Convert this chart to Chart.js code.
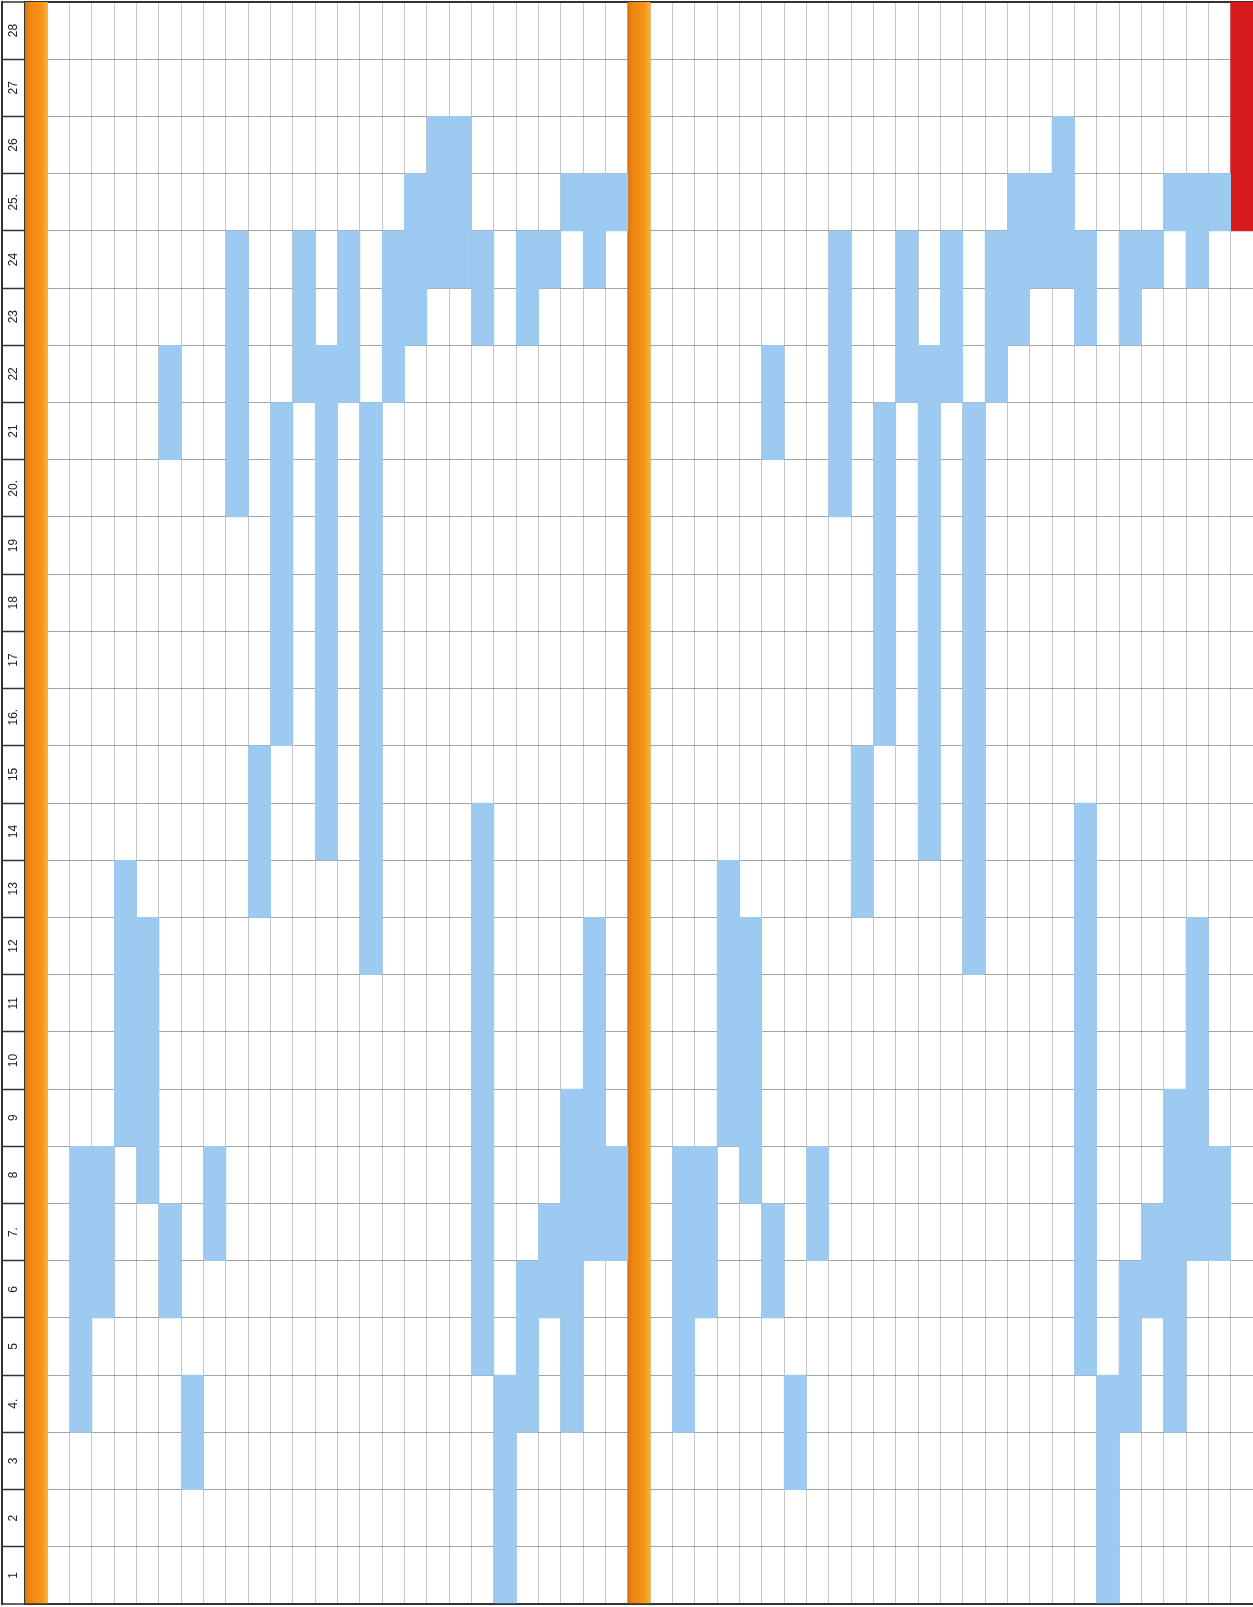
<!DOCTYPE html>
<html>
<head>
<meta charset="utf-8">
<script src="https://cdn.jsdelivr.net/npm/chart.js@4.4.1/dist/chart.umd.min.js"></script>
<style>
  html, body { margin: 0; padding: 0; background: #fff; overflow: hidden; }
  #wrap { position: relative; width: 1253px; height: 1607px; }
</style>
</head>
<body>
<div id="wrap"><canvas id="sheet"></canvas></div>
<script>
// row labels as written on the sheet, bottom to top
const rowLabels = ['1', '2', '3', '4.', '5', '6', '7.', '8', '9', '10', '11', '12', '13', '14',
    '15', '16.', '17', '18', '19', '20.', '21', '22', '23', '24', '25.', '26', '27', '28'];

// one category per column of the sheet
const columnLabels = ['1', '2', '3', '4', '5', '6', '7', '8', '9', '10', '11', '12', '13', '14',
    '15', '16', '17', '18', '19', '20', '21', '22', '23', '24', '25', '26', '27', '28', '29',
    '30', '31', '32', '33', '34', '35', '36', '37', '38', '39', '40', '41', '42', '43', '44',
    '45', '46', '47', '48', '49', '50', '51', '52', '53', '54', '55'];

// blue blocks: [first row, last row] per column (null = empty)
const blueMain = [
    null, null, [4, 8], [6, 8], [9, 13], [8, 12], [6, 7], [3, 4], [7, 8], [20, 24],
    [13, 15], [16, 21], [22, 24], [14, 22], [22, 24], [12, 21], [22, 24], [23, 25], [24, 26], [24, 26],
    [5, 14], [1, 4], [4, 6], [6, 7], [4, 9], [7, 12], [7, 8], null, null, [4, 8],
    [6, 8], [9, 13], [8, 12], [6, 7], [3, 4], [7, 8], [20, 24], [13, 15], [16, 21], [22, 24],
    [14, 22], [22, 24], [12, 21], [22, 24], [23, 25], [24, 25], [24, 26], [5, 14], [1, 4], [4, 6],
    [6, 7], [4, 9], [7, 12], [7, 8], null
];
// second block in the columns that have a gap
const blueUpper = [
    null, null, null, null, null, null, [21, 22], null, null, null,
    null, null, null, null, null, null, null, null, null, null,
    [23, 24], null, [23, 24], [24, 24], [25, 25], [24, 25], [25, 25], null, null, null,
    null, null, null, [21, 22], null, null, null, null, null, null,
    null, null, null, null, null, null, null, [23, 24], null, [23, 24],
    [24, 24], [25, 25], [24, 25], [25, 25], null
];

// marker columns
const orangeCols = [0, 27];
const orangeRows = [1, 28];
const redCols = [54];
const redRows = [25, 28];

// row range -> floating bar [bottom, top] on the row scale
const toBar = r => r ? [r[0] - 1, r[1]] : null;

const orangeData = columnLabels.map((_, i) => orangeCols.includes(i) ? toBar(orangeRows) : null);
const redData = columnLabels.map((_, i) => redCols.includes(i) ? toBar(redRows) : null);

function orangeFill(ctx) {
    const chart = ctx.chart;
    const xs = chart.scales.x;
    if (!xs || !xs.width || ctx.dataIndex === undefined) return '#f08a12';
    const w = xs.width / columnLabels.length;
    const cx = xs.getPixelForValue(ctx.dataIndex);
    const g = chart.ctx.createLinearGradient(cx - w / 2, 0, cx + w / 2, 0);
    g.addColorStop(0, '#d9720c');
    g.addColorStop(0.2, '#ef840f');
    g.addColorStop(0.75, '#f4961a');
    g.addColorStop(1, '#f7b03c');
    return g;
}

// outer left edge of the label column
const frame = {
    id: 'frame',
    afterDraw(chart) {
        const ys = chart.scales.y;
        const c = chart.ctx;
        c.save();
        c.strokeStyle = '#333';
        c.lineWidth = 2;
        c.beginPath();
        c.moveTo(ys.left + 1, chart.chartArea.top - 1);
        c.lineTo(ys.left + 1, chart.chartArea.bottom + 1);
        c.stroke();
        c.restore();
    }
};

const isRowLine = c => c.tick && c.tick.value % 1 === 0;
const isEdge = c => c.tick && (c.tick.value === 0 || c.tick.value === 28);

new Chart(document.getElementById('sheet'), {
    type: 'bar',
    data: {
        labels: columnLabels,
        datasets: [
            { data: blueMain.map(toBar), backgroundColor: '#9ccaf1' },
            { data: blueUpper.map(toBar), backgroundColor: '#9ccaf1' },
            { data: orangeData, backgroundColor: orangeFill },
            { data: redData, backgroundColor: '#d71a1c' }
        ]
    },
    options: {
        responsive: true,
        maintainAspectRatio: false,
        animation: false,
        layout: { padding: { top: 2, bottom: 3, left: 1, right: 0 } },
        plugins: { legend: { display: false }, tooltip: { enabled: false } },
        datasets: { bar: { grouped: false, barPercentage: 1, categoryPercentage: 1, borderWidth: 0 } },
        scales: {
            x: {
                type: 'category',
                offset: true,
                z: 1,
                ticks: { display: false },
                grid: { color: 'rgba(130,130,130,0.45)', lineWidth: 1, drawTicks: false },
                border: { color: '#333', width: 2 }
            },
            y: {
                type: 'linear',
                min: 0,
                max: 28,
                z: 1,
                afterFit(s) {
                    s.width = 24;
                    s.paddingTop = 0;
                    s.paddingBottom = 0;
                },
                ticks: {
                    stepSize: 0.5,
                    autoSkip: false,
                    minRotation: 90,
                    maxRotation: 90,
                    crossAlign: 'center',
                    padding: -20,
                    color: '#222',
                    font: { family: 'Liberation Sans, Arial, sans-serif', size: 12 },
                    callback: v => v % 1 ? rowLabels[v - 0.5] : ''
                },
                grid: {
                    color: c => isRowLine(c) ? (isEdge(c) ? '#333' : 'rgba(90,90,90,0.55)') : 'rgba(0,0,0,0)',
                    lineWidth: c => isEdge(c) ? 2 : 1,
                    tickColor: c => isRowLine(c) ? '#333' : 'rgba(0,0,0,0)',
                    tickLength: 23,
                    tickWidth: 1.5
                },
                border: { color: '#333', width: 2 }
            }
        }
    },
    plugins: [frame]
});
</script>
</body>
</html>
